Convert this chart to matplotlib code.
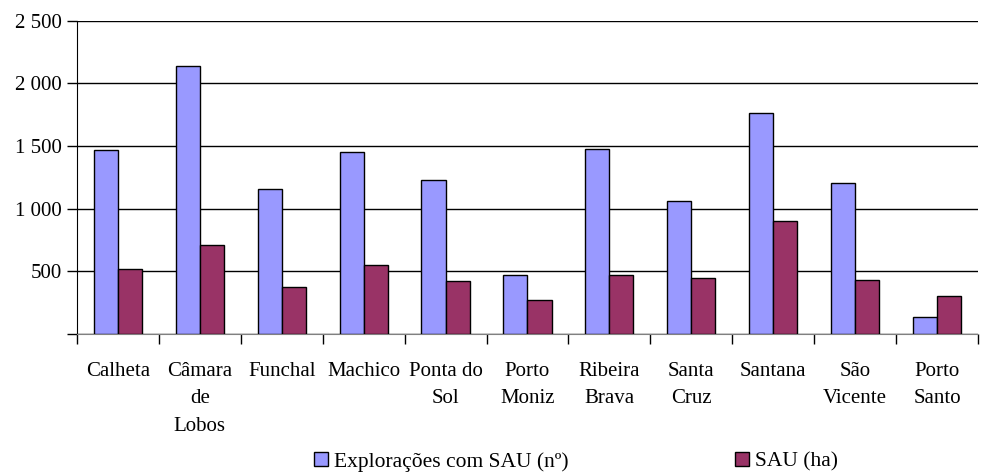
import matplotlib
matplotlib.use("Agg")
import matplotlib.pyplot as plt
import numpy as np

categories = ["Calheta", "Câmara\nde\nLobos", "Funchal", "Machico", "Ponta do\nSol",
              "Porto\nMoniz", "Ribeira\nBrava", "Santa\nCruz", "Santana", "São\nVicente",
              "Porto\nSanto"]
exploracoes = [1470, 2140, 1158, 1454, 1230, 471, 1478, 1062, 1765, 1206, 136]
sau_ha = [519, 711, 375, 551, 423, 272, 471, 447, 903, 431, 304]
series_names = ["Explorações com SAU (nº)", "SAU (ha)"]
yticks = [0, 500, 1000, 1500, 2000, 2500]
ytick_labels = ["", "500", "1 000", "1 500", "2 000", "2 500"]

plt.rcParams['font.family'] = ['Liberation Serif', 'DejaVu Serif']

fig = plt.figure(figsize=(9.85, 4.73), dpi=100)
ax = fig.add_axes([0.078, 0.294, 0.915, 0.662])

x = np.arange(len(categories))
w = 0.294
b1 = ax.bar(x - w/2, exploracoes, w, color="#9999FF", edgecolor="black", linewidth=1.0,
            label=series_names[0], zorder=3)
b2 = ax.bar(x + w/2, sau_ha, w, color="#993366", edgecolor="black", linewidth=1.0,
            label=series_names[1], zorder=3)

ax.set_xlim(-0.5, len(categories) - 0.5)
ax.set_ylim(0, 2500)
ax.set_yticks(yticks)
ax.set_yticklabels(ytick_labels, fontsize=15)
ax.yaxis.grid(True, color="black", linewidth=1.0, zorder=0)
ax.set_axisbelow(True)

ax.set_xticks(x)
ax.set_xticklabels(categories, fontsize=15, linespacing=1.62, va="top")
ax.tick_params(axis="x", which="major", length=0, pad=20)
ax.set_xticks(np.arange(len(categories) + 1) - 0.5, minor=True)
ax.tick_params(axis="x", which="minor", length=7, width=1, color="black")
ax.tick_params(axis="y", length=7, width=1, color="black", pad=4)

for s in ["top", "right"]:
    ax.spines[s].set_visible(False)
ax.spines["left"].set_color("black")
ax.spines["bottom"].set_color("#808080")

fig.legend(handles=[b1, b2], labels=series_names, loc="center left",
           bbox_to_anchor=(314 / 985, 1 - 462 / 473),
           ncol=2, frameon=False, fontsize=15.5, columnspacing=7.7, handlelength=0.65,
           handleheight=0.65, handletextpad=0.3, borderpad=0, borderaxespad=0)

fig.savefig("out.png", dpi=100)
